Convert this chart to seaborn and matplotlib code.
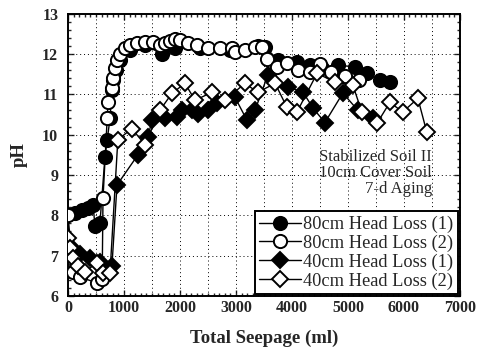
import numpy as np
import pandas as pd
import matplotlib
matplotlib.use("Agg")
import matplotlib.pyplot as plt
import seaborn as sns
from matplotlib.ticker import MultipleLocator

sns.set_style("ticks")
plt.rcParams['font.family'] = ['Liberation Serif', 'DejaVu Serif']

# ---- data ----
c1_x = [125, 250, 360, 450, 480, 570, 660, 700, 750, 785, 800, 860, 930, 1110, 1375, 1680,
        1910, 2360, 2890, 3390, 3520, 3750, 4090, 4320, 4540, 4820, 5130, 5340, 5570, 5750]
c1_y = [8.06, 8.13, 8.18, 8.25, 7.73, 7.8, 9.45, 9.87, 10.4, 11.1, 11.35, 11.6, 11.85, 12.1, 12.22, 12.0,
        12.15, 12.15, 12.1, 12.2, 12.17, 11.85, 11.8, 11.72, 11.65, 11.72, 11.68, 11.52, 11.35, 11.3]

c2_x = [0, 90, 215, 520, 610, 625, 700, 715, 785, 800, 840, 875, 930, 1020, 1110, 1230, 1375, 1520,
        1640, 1730, 1820, 1910, 2000, 2140, 2300, 2500, 2710, 2930, 2980, 3160, 3340, 3460, 3550,
        3730, 3910, 4110, 4320, 4500, 4700, 4950, 5200]
c2_y = [8.0, 6.6, 6.47, 6.32, 6.42, 8.42, 10.4, 10.8, 11.15, 11.4, 11.65, 11.85, 12.0, 12.15, 12.22, 12.27, 12.3, 12.3,
        12.22, 12.27, 12.32, 12.38, 12.34, 12.27, 12.22, 12.15, 12.15, 12.15, 12.05, 12.1, 12.17, 12.17, 11.87,
        11.67, 11.77, 11.6, 11.55, 11.75, 11.55, 11.45, 11.35]

d1_x = [35, 215, 390, 570, 785, 875, 1250, 1430, 1500, 1730, 1950, 2040, 2210, 2320, 2500, 2660, 2980,
        3200, 3340, 3570, 3930, 4200, 4380, 4590, 4910, 5180, 5450]
d1_y = [7.25, 7.05, 6.95, 6.85, 6.75, 8.75, 9.5, 9.95, 10.36, 10.4, 10.43, 10.6, 10.6, 10.5, 10.6, 10.78, 10.93,
        10.35, 10.6, 11.48, 11.18, 11.05, 10.65, 10.3, 11.03, 10.6, 10.4]

d2_x = [0, 35, 90, 180, 300, 520, 625, 750, 890, 1140, 1375, 1640, 1860, 2090, 2270, 2570, 2800, 3160,
        3390, 3700, 3910, 4090, 4450, 4770, 5090, 5250, 5520, 5750, 5980, 6250, 6410]
d2_y = [7.43, 7.2, 6.95, 6.75, 6.6, 6.82, 6.57, 6.57, 9.87, 10.15, 9.75, 10.6, 11.03, 11.27, 10.85, 11.05, 10.85, 11.27,
        11.05, 11.27, 10.68, 10.56, 11.52, 11.3, 11.22, 10.56, 10.28, 10.8, 10.56, 10.9, 10.06]

labels = ["80cm Head Loss (1)", "80cm Head Loss (2)", "40cm Head Loss (1)", "40cm Head Loss (2)"]
x_ticks = [0, 1000, 2000, 3000, 4000, 5000, 6000, 7000]
y_ticks = [6, 7, 8, 9, 10, 11, 12, 13]
x_grid = [500, 1000, 1500, 2000, 2500, 3000, 3500, 4000, 4500, 5000, 5500, 6000, 6500]

series = [
    (c1_x, c1_y, 'o', 'black', 9.5, 2),
    (c2_x, c2_y, 'o', 'white', 9.5, 3),
    (d1_x, d1_y, 'D', 'black', 8.0, 4),
    (d2_x, d2_y, 'D', 'white', 8.0, 5),
]

fig = plt.figure(figsize=(4.79, 3.49), dpi=100)
ax = fig.add_axes([0.142, 0.152, 0.818, 0.809])

for (xs, ys, m, fc, ms, z), lab in zip(series, labels):
    df = pd.DataFrame({"x": xs, "y": ys})
    sns.lineplot(data=df, x="x", y="y", ax=ax, sort=False, estimator=None,
                 color='black', linewidth=1.0, marker=m, markersize=ms,
                 markerfacecolor=fc, markeredgecolor='black', markeredgewidth=1.4,
                 label=lab, zorder=z)

ax.set_xlim(0, 7000)
ax.set_ylim(6, 13)
ax.set_xticks(x_ticks)
ax.set_yticks(y_ticks)
ax.xaxis.set_minor_locator(MultipleLocator(100))
ax.yaxis.set_minor_locator(MultipleLocator(0.2))
ax.tick_params(which='both', direction='in', top=True, right=True, width=1.0)
ax.tick_params(which='major', length=4, labelsize=11.5)
ax.tick_params(axis='y', which='major', pad=7)
ax.tick_params(axis='x', which='major', pad=3)
ax.tick_params(which='minor', length=2)
for lab in ax.get_xticklabels() + ax.get_yticklabels():
    lab.set_fontweight('bold')

# dotted grid: every 500 ml vertically, every pH unit horizontally
for gx in x_grid:
    ax.axvline(gx, linestyle=(0, (1, 3)), color='black', linewidth=0.7, zorder=1)
for gy in y_ticks[1:-1]:
    ax.axhline(gy, linestyle=(0, (1, 3)), color='black', linewidth=0.7, zorder=1)

for s in ax.spines.values():
    s.set_linewidth(1.4)
    s.set_color('black')

ax.set_xlabel("Total Seepage (ml)", fontsize=13.5, fontweight='bold', labelpad=10)
ax.set_ylabel("pH", fontsize=13.5, fontweight='bold', labelpad=10)

ax.text(6500, 9.64, "Stabilized Soil II\n10cm Cover Soil\n7-d Aging",
        ha='right', va='top', fontsize=12, linespacing=1.0, zorder=6)

leg = ax.legend(loc='lower right', fontsize=13.2, frameon=True, fancybox=False,
                edgecolor='black', framealpha=1, borderaxespad=0.1,
                handlelength=2.3, handletextpad=0.1, labelspacing=0.08, borderpad=0.25)
leg.get_frame().set_linewidth(1.4)
leg.set_zorder(10)

fig.savefig("out.png", dpi=100)
